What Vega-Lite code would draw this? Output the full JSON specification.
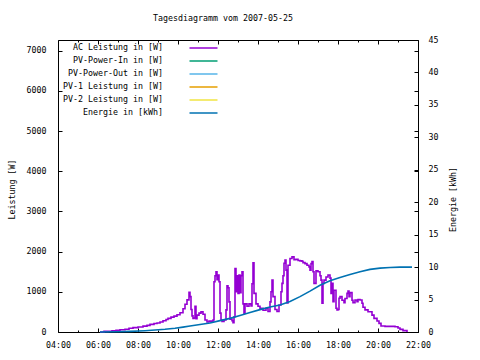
{
  "$schema": "https://vega.github.io/schema/vega-lite/v6.json",
  "width": 360,
  "height": 292,
  "autosize": {"type": "none"},
  "padding": {"left": 58, "top": 40, "right": 62, "bottom": 28},
  "background": "white",
  "title": {"text": "Tagesdiagramm vom 2007-05-25", "font": "DejaVu Sans Mono", "fontSize": 8.3, "fontWeight": "normal", "color": "black", "offset": 13, "dx": -15},
  "datasets": {
    "ac": [
      {"t": "2007-05-25T06:06", "w": 0}, {"t": "2007-05-25T06:18", "w": 15}, {"t": "2007-05-25T06:30", "w": 20},
      {"t": "2007-05-25T06:42", "w": 30}, {"t": "2007-05-25T06:54", "w": 40}, {"t": "2007-05-25T07:06", "w": 55},
      {"t": "2007-05-25T07:21", "w": 70}, {"t": "2007-05-25T07:33", "w": 95}, {"t": "2007-05-25T07:45", "w": 110},
      {"t": "2007-05-25T08:00", "w": 125}, {"t": "2007-05-25T08:15", "w": 145}, {"t": "2007-05-25T08:27", "w": 165},
      {"t": "2007-05-25T08:36", "w": 190}, {"t": "2007-05-25T08:48", "w": 210}, {"t": "2007-05-25T08:57", "w": 225},
      {"t": "2007-05-25T09:06", "w": 250}, {"t": "2007-05-25T09:15", "w": 280}, {"t": "2007-05-25T09:24", "w": 310},
      {"t": "2007-05-25T09:30", "w": 340}, {"t": "2007-05-25T09:39", "w": 370}, {"t": "2007-05-25T09:48", "w": 395},
      {"t": "2007-05-25T09:57", "w": 430}, {"t": "2007-05-25T10:06", "w": 480}, {"t": "2007-05-25T10:15", "w": 580},
      {"t": "2007-05-25T10:21", "w": 690}, {"t": "2007-05-25T10:27", "w": 800}, {"t": "2007-05-25T10:33", "w": 985},
      {"t": "2007-05-25T10:36", "w": 880}, {"t": "2007-05-25T10:39", "w": 560}, {"t": "2007-05-25T10:42", "w": 400},
      {"t": "2007-05-25T10:45", "w": 340}, {"t": "2007-05-25T10:48", "w": 350}, {"t": "2007-05-25T10:51", "w": 640},
      {"t": "2007-05-25T10:54", "w": 330}, {"t": "2007-05-25T10:57", "w": 420}, {"t": "2007-05-25T11:03", "w": 470},
      {"t": "2007-05-25T11:09", "w": 500}, {"t": "2007-05-25T11:15", "w": 440}, {"t": "2007-05-25T11:21", "w": 300},
      {"t": "2007-05-25T11:27", "w": 250}, {"t": "2007-05-25T11:33", "w": 270}, {"t": "2007-05-25T11:39", "w": 270},
      {"t": "2007-05-25T11:45", "w": 300}, {"t": "2007-05-25T11:48", "w": 1250}, {"t": "2007-05-25T11:51", "w": 1400},
      {"t": "2007-05-25T11:54", "w": 1500}, {"t": "2007-05-25T11:57", "w": 1300}, {"t": "2007-05-25T12:00", "w": 1420},
      {"t": "2007-05-25T12:03", "w": 1250}, {"t": "2007-05-25T12:06", "w": 470}, {"t": "2007-05-25T12:09", "w": 300},
      {"t": "2007-05-25T12:12", "w": 260}, {"t": "2007-05-25T12:18", "w": 300}, {"t": "2007-05-25T12:24", "w": 550},
      {"t": "2007-05-25T12:27", "w": 1150}, {"t": "2007-05-25T12:30", "w": 1100}, {"t": "2007-05-25T12:33", "w": 750},
      {"t": "2007-05-25T12:36", "w": 320}, {"t": "2007-05-25T12:42", "w": 280}, {"t": "2007-05-25T12:45", "w": 230},
      {"t": "2007-05-25T12:48", "w": 380}, {"t": "2007-05-25T12:51", "w": 1580}, {"t": "2007-05-25T12:54", "w": 1000},
      {"t": "2007-05-25T12:57", "w": 1400}, {"t": "2007-05-25T13:00", "w": 960}, {"t": "2007-05-25T13:03", "w": 1420},
      {"t": "2007-05-25T13:06", "w": 980}, {"t": "2007-05-25T13:09", "w": 1400}, {"t": "2007-05-25T13:12", "w": 1500},
      {"t": "2007-05-25T13:15", "w": 700}, {"t": "2007-05-25T13:18", "w": 470}, {"t": "2007-05-25T13:21", "w": 700},
      {"t": "2007-05-25T13:27", "w": 640}, {"t": "2007-05-25T13:33", "w": 700}, {"t": "2007-05-25T13:39", "w": 650},
      {"t": "2007-05-25T13:42", "w": 1200}, {"t": "2007-05-25T13:45", "w": 1720}, {"t": "2007-05-25T13:48", "w": 960},
      {"t": "2007-05-25T13:54", "w": 700}, {"t": "2007-05-25T14:00", "w": 640}, {"t": "2007-05-25T14:06", "w": 590},
      {"t": "2007-05-25T14:15", "w": 540}, {"t": "2007-05-25T14:24", "w": 590}, {"t": "2007-05-25T14:30", "w": 510},
      {"t": "2007-05-25T14:36", "w": 750}, {"t": "2007-05-25T14:39", "w": 1000}, {"t": "2007-05-25T14:42", "w": 1290},
      {"t": "2007-05-25T14:45", "w": 880}, {"t": "2007-05-25T14:51", "w": 560}, {"t": "2007-05-25T14:57", "w": 510},
      {"t": "2007-05-25T15:03", "w": 670}, {"t": "2007-05-25T15:09", "w": 1000}, {"t": "2007-05-25T15:12", "w": 1210},
      {"t": "2007-05-25T15:15", "w": 1400}, {"t": "2007-05-25T15:18", "w": 1710}, {"t": "2007-05-25T15:21", "w": 1790},
      {"t": "2007-05-25T15:24", "w": 1540}, {"t": "2007-05-25T15:27", "w": 720}, {"t": "2007-05-25T15:30", "w": 1660},
      {"t": "2007-05-25T15:36", "w": 1830}, {"t": "2007-05-25T15:42", "w": 1870}, {"t": "2007-05-25T15:48", "w": 1800},
      {"t": "2007-05-25T15:54", "w": 1810}, {"t": "2007-05-25T16:00", "w": 1780}, {"t": "2007-05-25T16:06", "w": 1770},
      {"t": "2007-05-25T16:12", "w": 1760}, {"t": "2007-05-25T16:15", "w": 1725}, {"t": "2007-05-25T16:21", "w": 1700},
      {"t": "2007-05-25T16:27", "w": 1660}, {"t": "2007-05-25T16:33", "w": 1620}, {"t": "2007-05-25T16:36", "w": 1540},
      {"t": "2007-05-25T16:39", "w": 1700}, {"t": "2007-05-25T16:42", "w": 1750}, {"t": "2007-05-25T16:45", "w": 1500},
      {"t": "2007-05-25T16:48", "w": 1210}, {"t": "2007-05-25T16:54", "w": 1520}, {"t": "2007-05-25T17:00", "w": 1500},
      {"t": "2007-05-25T17:06", "w": 1400}, {"t": "2007-05-25T17:09", "w": 1290}, {"t": "2007-05-25T17:12", "w": 715},
      {"t": "2007-05-25T17:15", "w": 1210}, {"t": "2007-05-25T17:18", "w": 1290}, {"t": "2007-05-25T17:24", "w": 1370},
      {"t": "2007-05-25T17:30", "w": 1420}, {"t": "2007-05-25T17:36", "w": 1340}, {"t": "2007-05-25T17:39", "w": 960},
      {"t": "2007-05-25T17:42", "w": 1210}, {"t": "2007-05-25T17:45", "w": 755}, {"t": "2007-05-25T17:48", "w": 1040},
      {"t": "2007-05-25T17:54", "w": 590}, {"t": "2007-05-25T17:57", "w": 550}, {"t": "2007-05-25T18:00", "w": 560},
      {"t": "2007-05-25T18:03", "w": 840}, {"t": "2007-05-25T18:06", "w": 880}, {"t": "2007-05-25T18:12", "w": 790},
      {"t": "2007-05-25T18:18", "w": 730}, {"t": "2007-05-25T18:21", "w": 835}, {"t": "2007-05-25T18:27", "w": 960},
      {"t": "2007-05-25T18:30", "w": 1020}, {"t": "2007-05-25T18:33", "w": 880}, {"t": "2007-05-25T18:36", "w": 980},
      {"t": "2007-05-25T18:42", "w": 790}, {"t": "2007-05-25T18:45", "w": 730}, {"t": "2007-05-25T18:51", "w": 795},
      {"t": "2007-05-25T18:57", "w": 755}, {"t": "2007-05-25T19:00", "w": 810}, {"t": "2007-05-25T19:06", "w": 795},
      {"t": "2007-05-25T19:12", "w": 715}, {"t": "2007-05-25T19:15", "w": 615}, {"t": "2007-05-25T19:21", "w": 550},
      {"t": "2007-05-25T19:30", "w": 505}, {"t": "2007-05-25T19:42", "w": 420}, {"t": "2007-05-25T19:48", "w": 340},
      {"t": "2007-05-25T19:57", "w": 275}, {"t": "2007-05-25T20:03", "w": 215}, {"t": "2007-05-25T20:09", "w": 150},
      {"t": "2007-05-25T20:21", "w": 140}, {"t": "2007-05-25T20:42", "w": 140}, {"t": "2007-05-25T20:51", "w": 130},
      {"t": "2007-05-25T21:00", "w": 100}, {"t": "2007-05-25T21:06", "w": 65}, {"t": "2007-05-25T21:15", "w": 35},
      {"t": "2007-05-25T21:27", "w": 0}
    ],
    "en": [
      {"t": "2007-05-25T06:06", "e": 0}, {"t": "2007-05-25T06:57", "e": 0.05}, {"t": "2007-05-25T07:36", "e": 0.1},
      {"t": "2007-05-25T08:21", "e": 0.2}, {"t": "2007-05-25T08:51", "e": 0.3}, {"t": "2007-05-25T09:21", "e": 0.42},
      {"t": "2007-05-25T09:51", "e": 0.58}, {"t": "2007-05-25T10:15", "e": 0.75}, {"t": "2007-05-25T10:36", "e": 0.92},
      {"t": "2007-05-25T11:06", "e": 1.15}, {"t": "2007-05-25T11:36", "e": 1.4}, {"t": "2007-05-25T12:06", "e": 1.75},
      {"t": "2007-05-25T12:36", "e": 2.1}, {"t": "2007-05-25T13:06", "e": 2.55}, {"t": "2007-05-25T13:36", "e": 3.0},
      {"t": "2007-05-25T14:06", "e": 3.45}, {"t": "2007-05-25T14:36", "e": 3.85}, {"t": "2007-05-25T15:06", "e": 4.15},
      {"t": "2007-05-25T15:36", "e": 4.7}, {"t": "2007-05-25T16:06", "e": 5.45}, {"t": "2007-05-25T16:36", "e": 6.3},
      {"t": "2007-05-25T17:06", "e": 7.2}, {"t": "2007-05-25T17:36", "e": 7.9}, {"t": "2007-05-25T18:06", "e": 8.4},
      {"t": "2007-05-25T18:36", "e": 8.85}, {"t": "2007-05-25T19:06", "e": 9.3}, {"t": "2007-05-25T19:36", "e": 9.65},
      {"t": "2007-05-25T20:06", "e": 9.85}, {"t": "2007-05-25T20:36", "e": 9.95}, {"t": "2007-05-25T21:06", "e": 10.0},
      {"t": "2007-05-25T21:42", "e": 10.0}
    ],
    "hours": [
      {"t": "2007-05-25T04:00"}, {"t": "2007-05-25T22:00"}
    ]
  },
  "layer": [
    {
      "data": {"name": "ac"},
      "mark": {"type": "line", "interpolate": "step-after", "strokeWidth": 1.6},
      "encoding": {
        "x": {"field": "t", "type": "temporal",
          "scale": {"domain": [{"year": 2007, "month": 5, "date": 25, "hours": 4}, {"year": 2007, "month": 5, "date": 25, "hours": 22}]},
          "axis": {"orient": "bottom", "format": "%H:%M", "title": null, "labelPadding": 12, "tickSize": -4, "labelFlush": false, "labelOverlap": false,
            "values": [
              {"year": 2007, "month": 5, "date": 25, "hours": 4}, {"year": 2007, "month": 5, "date": 25, "hours": 6},
              {"year": 2007, "month": 5, "date": 25, "hours": 8}, {"year": 2007, "month": 5, "date": 25, "hours": 10},
              {"year": 2007, "month": 5, "date": 25, "hours": 12}, {"year": 2007, "month": 5, "date": 25, "hours": 14},
              {"year": 2007, "month": 5, "date": 25, "hours": 16}, {"year": 2007, "month": 5, "date": 25, "hours": 18},
              {"year": 2007, "month": 5, "date": 25, "hours": 20}, {"year": 2007, "month": 5, "date": 25, "hours": 22}]}},
        "y": {"field": "w", "type": "quantitative", "scale": {"domain": [0, 7265], "nice": false},
          "axis": {"orient": "left", "values": [0, 1000, 2000, 3000, 4000, 5000, 6000, 7000], "format": "d", "title": "Leistung [W]", "labelPadding": 16, "tickSize": -4,
            "titleX": -46, "titleY": 149, "titleAngle": -90, "titleBaseline": "middle", "titleAlign": "center"}},
        "color": {"datum": "AC Leistung in [W]", "type": "nominal",
          "scale": {"domain": ["AC Leistung in [W]", "PV-Power-In in [W]", "PV-Power-Out in [W]", "PV-1 Leistung in [W]", "PV-2 Leistung in [W]", "Energie in [kWh]"],
            "range": ["#9400D3", "#009E73", "#56B4E9", "#E69F00", "#F0E442", "#0072B2"]},
          "legend": {"orient": "none", "legendX": 140.5, "legendY": 3, "title": null, "labelAlign": "right", "labelOffset": -45.5,
            "symbolType": "M-3.5,0H3.5", "symbolSize": 64, "symbolStrokeWidth": 1.5, "rowPadding": 4, "labelLimit": 0,
            "labelFont": "DejaVu Sans Mono", "labelFontSize": 8.3, "labelColor": "black", "symbolOpacity": 1}}
      }
    },
    {
      "data": {"name": "hours"},
      "mark": {"type": "point", "opacity": 0},
      "encoding": {
        "x": {"field": "t", "type": "temporal",
          "axis": {"orient": "top", "labels": false, "title": null, "tickSize": -4,
            "values": [
              {"year": 2007, "month": 5, "date": 25, "hours": 4}, {"year": 2007, "month": 5, "date": 25, "hours": 6},
              {"year": 2007, "month": 5, "date": 25, "hours": 8}, {"year": 2007, "month": 5, "date": 25, "hours": 10},
              {"year": 2007, "month": 5, "date": 25, "hours": 12}, {"year": 2007, "month": 5, "date": 25, "hours": 14},
              {"year": 2007, "month": 5, "date": 25, "hours": 16}, {"year": 2007, "month": 5, "date": 25, "hours": 18},
              {"year": 2007, "month": 5, "date": 25, "hours": 20}, {"year": 2007, "month": 5, "date": 25, "hours": 22}]}},
        "y": {"datum": 0, "type": "quantitative", "scale": {"domain": [0, 7265], "nice": false},
          "axis": {"orient": "right", "labels": false, "title": null, "values": [0, 1000, 2000, 3000, 4000, 5000, 6000, 7000], "tickSize": -4}}
      }
    },
    {
      "data": {"name": "hours"},
      "mark": {"type": "point", "opacity": 0},
      "encoding": {
        "x": {"field": "t", "type": "temporal",
          "axis": {"orient": "bottom", "labels": false, "title": null, "tickSize": -2,
            "values": [
              {"year": 2007, "month": 5, "date": 25, "hours": 5}, {"year": 2007, "month": 5, "date": 25, "hours": 7},
              {"year": 2007, "month": 5, "date": 25, "hours": 9}, {"year": 2007, "month": 5, "date": 25, "hours": 11},
              {"year": 2007, "month": 5, "date": 25, "hours": 13}, {"year": 2007, "month": 5, "date": 25, "hours": 15},
              {"year": 2007, "month": 5, "date": 25, "hours": 17}, {"year": 2007, "month": 5, "date": 25, "hours": 19},
              {"year": 2007, "month": 5, "date": 25, "hours": 21}]}}
      }
    },
    {
      "data": {"name": "hours"},
      "mark": {"type": "point", "opacity": 0},
      "encoding": {
        "x": {"field": "t", "type": "temporal",
          "axis": {"orient": "top", "labels": false, "title": null, "tickSize": -2,
            "values": [
              {"year": 2007, "month": 5, "date": 25, "hours": 5}, {"year": 2007, "month": 5, "date": 25, "hours": 7},
              {"year": 2007, "month": 5, "date": 25, "hours": 9}, {"year": 2007, "month": 5, "date": 25, "hours": 11},
              {"year": 2007, "month": 5, "date": 25, "hours": 13}, {"year": 2007, "month": 5, "date": 25, "hours": 15},
              {"year": 2007, "month": 5, "date": 25, "hours": 17}, {"year": 2007, "month": 5, "date": 25, "hours": 19},
              {"year": 2007, "month": 5, "date": 25, "hours": 21}]}}
      }
    },
    {
      "data": {"name": "en"},
      "mark": {"type": "line", "interpolate": "linear", "strokeWidth": 1.6},
      "encoding": {
        "x": {"field": "t", "type": "temporal", "axis": null},
        "y": {"field": "e", "type": "quantitative", "scale": {"domain": [0, 45], "nice": false},
          "axis": {"orient": "right", "values": [0, 5, 10, 15, 20, 25, 30, 35, 40, 45], "title": "Energie [kWh]", "labelPadding": 14, "tickSize": -4,
            "titleX": 35, "titleY": 159, "titleAngle": -90, "titleBaseline": "middle", "titleAlign": "center"}},
        "color": {"datum": "Energie in [kWh]", "type": "nominal"}
      }
    }
  ],
  "resolve": {"scale": {"y": "independent"}, "axis": {"x": "independent", "y": "independent"}},
  "config": {
    "view": {"stroke": "black", "strokeWidth": 1},
    "font": "DejaVu Sans Mono",
    "axis": {"labelFont": "DejaVu Sans Mono", "labelFontSize": 8.3, "labelColor": "black", "titleFont": "DejaVu Sans Mono", "titleFontSize": 8.3,
      "titleFontWeight": "normal", "titleColor": "black", "domain": false, "grid": false, "tickColor": "black", "tickWidth": 1}
  }
}
